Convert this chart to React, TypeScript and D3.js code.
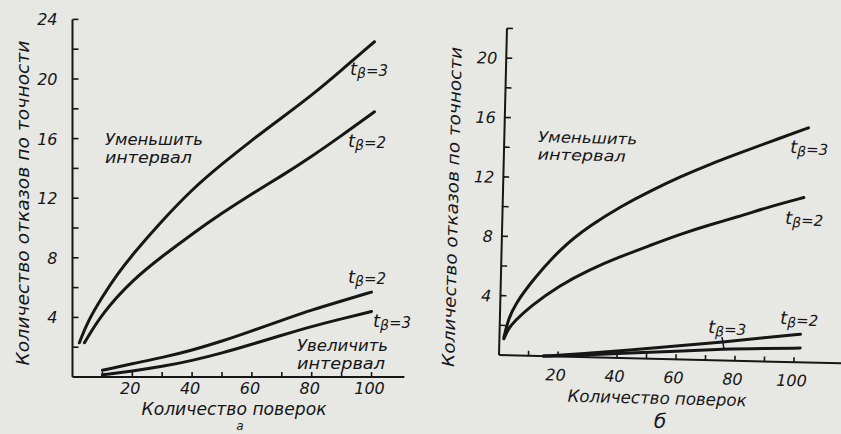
import React from 'react';
import * as d3 from 'd3';

// chart "а": values
const aUp3 = [[2.3, 2.3], [5, 3.7], [10, 5.4], [15, 6.9], [20, 8.2], [30, 10.5], [40, 12.6], [50, 14.3], [60, 15.9], [70, 17.4], [80, 18.9], [90, 20.6], [101, 22.5]];
const aUp2 = [[4, 2.3], [10, 4.3], [20, 6.5], [30, 8.1], [40, 9.6], [50, 11.0], [60, 12.3], [70, 13.5], [80, 14.8], [90, 16.2], [101, 17.8]];
const aLow2 = [[10, 0.45], [20, 0.9], [30, 1.3], [40, 1.8], [50, 2.4], [60, 3.1], [70, 3.8], [80, 4.5], [90, 5.1], [100, 5.7]];
const aLow3 = [[10, 0.15], [20, 0.4], [30, 0.7], [40, 1.1], [50, 1.6], [60, 2.2], [70, 2.8], [80, 3.4], [90, 3.9], [100, 4.4]];

// chart "б"
const bUp3 = [[1.5, 1.2], [3, 2.5], [5, 3.4], [10, 4.9], [20, 7.3], [30, 8.9], [40, 10.2], [50, 11.3], [60, 12.3], [70, 13.2], [80, 14.0], [90, 14.8], [103, 15.8]];
const bUp2 = [[1.5, 1.1], [3, 1.8], [5, 2.3], [10, 3.3], [20, 4.8], [30, 5.9], [40, 6.8], [50, 7.6], [60, 8.4], [70, 9.1], [80, 9.7], [90, 10.4], [102, 11.1]];
const bLow2 = [[15, 0], [30, 0.25], [44, 0.55], [60, 0.9], [76, 1.24], [90, 1.6], [102, 1.9]];
const bLow3 = [[15, 0], [30, 0.15], [44, 0.34], [60, 0.55], [76, 0.77], [90, 0.88], [102, 0.96]];

const xTicks = [10, 20, 30, 40, 50, 60, 70, 80, 90, 100];
const xTickLabels = [20, 40, 60, 80, 100];
const aYTicks = [2, 4, 6, 8, 10, 12, 14, 16, 18, 20, 22, 24];
const bYTicks = [2, 4, 6, 8, 10, 12, 14, 16, 18, 20, 22];
const aYTickLabels = [4, 8, 12, 16, 20, 24];
const bYTickLabels = [4, 8, 12, 16, 20];

const yTitle = 'Количество отказов по точности';
const xTitle = 'Количество поверок';
const lessText = ['Уменьшить', 'интервал'];
const moreText = ['Увеличить', 'интервал'];

const ink = '#161616';
const font = "'DejaVu Sans', sans-serif";

const TB = ({ x, y, v }) => (
  <text x={x} y={y} fontFamily={font} fontStyle="italic" fill={ink}>
    <tspan fontSize={18}>t</tspan>
    <tspan fontSize={14} dy={3}>β</tspan>
    <tspan fontSize={15} dy={-2}>={v}</tspan>
  </text>
);

const Panel = ({ ox, oy, kx, ky, xMax, yMax, yTicks, yLabels, angle, labelGap, xLabelY, curves, children }) => {
  const x = d3.scaleLinear().domain([0, xMax]).range([0, xMax * kx]);
  const y = d3.scaleLinear().domain([0, yMax]).range([0, -yMax * ky]);
  const line = d3.line().x(d => x(d[0])).y(d => y(d[1])).curve(d3.curveBasis);
  return (
    <g transform={`translate(${ox},${oy}) rotate(${angle})`}>
      <line x1={0} y1={0} x2={x(xMax)} y2={0} stroke={ink} strokeWidth={2} />
      <line x1={0} y1={0} x2={0} y2={y(yMax)} stroke={ink} strokeWidth={2} />
      {xTicks.map(t => (
        <line key={'xt' + t} x1={x(t)} x2={x(t)} y1={0} y2={-5} stroke={ink} strokeWidth={1.6} />
      ))}
      {yTicks.map(t => (
        <line key={'yt' + t} x1={0} x2={6} y1={y(t)} y2={y(t)} stroke={ink} strokeWidth={1.6} />
      ))}
      {xTickLabels.map(t => (
        <text key={'xl' + t} x={x(t) - 2} y={xLabelY} textAnchor="middle" fontFamily={font}
          fontStyle="italic" fontSize={16} fill={ink}>{t}</text>
      ))}
      {yLabels.map(t => (
        <text key={'yl' + t} x={-labelGap} y={y(t) + 6} textAnchor="end" fontFamily={font}
          fontStyle="italic" fontSize={16} fill={ink}>{t}</text>
      ))}
      {curves.map((c, i) => (
        <path key={'c' + i} d={line(c)} fill="none" stroke={ink} strokeWidth={3} strokeLinecap="round" />
      ))}
      {children}
    </g>
  );
};

const Label = ({ x, y, lines, w }) => (
  <g>
    {lines.map((s, i) => (
      <text key={i} x={x} y={y + i * 17.5} fontFamily={font} fontStyle="italic" fontSize={15} fill={ink}
        textLength={w[i]} lengthAdjust="spacingAndGlyphs">{s}</text>
    ))}
  </g>
);

export default function App() {
  const bAngle = 1.4;
  const th = (bAngle * Math.PI) / 180;
  const bo = [499, 355];
  // screen point -> local coords of the slightly rotated panel б
  const loc = (sx, sy) => {
    const dx = sx - bo[0], dy = sy - bo[1];
    return [dx * Math.cos(th) + dy * Math.sin(th), -dx * Math.sin(th) + dy * Math.cos(th)];
  };
  const p = (sx, sy) => { const q = loc(sx, sy); return { x: q[0], y: q[1] }; };

  return (
    <svg width={841} height={434} style={{ position: 'absolute', left: 0, top: 0 }}>
      <rect width={841} height={434} fill="#e7e7e4" />

      <Panel ox={72.5} oy={377} kx={2.99} ky={14.9} xMax={111} yMax={24} yTicks={aYTicks}
        yLabels={aYTickLabels} angle={0} labelGap={15} xLabelY={17} curves={[aUp3, aUp2, aLow2, aLow3]} />

      <TB x={350} y={75} v={3} />
      <TB x={348} y={147} v={2} />
      <TB x={348} y={283} v={2} />
      <TB x={373} y={327} v={3} />
      <Label x={105} y={145} lines={lessText} w={[98, 87]} />
      <Label x={297} y={351} lines={moreText} w={[91, 88]} />

      <text transform="translate(29,203) rotate(-90)" textAnchor="middle" fontFamily={font}
        fontStyle="italic" fontSize={17} fill={ink} textLength={325} lengthAdjust="spacingAndGlyphs">{yTitle}</text>
      <text x={234} y={415} textAnchor="middle" fontFamily={font} fontStyle="italic" fontSize={17}
        fill={ink} textLength={185} lengthAdjust="spacingAndGlyphs">{xTitle}</text>
      <text x={240} y={430} textAnchor="middle" fontFamily={font} fontStyle="italic" fontSize={12} fill={ink}>а</text>

      <Panel ox={bo[0]} oy={bo[1]} kx={2.95} ky={14.85} xMax={118} yMax={22} yTicks={bYTicks}
        yLabels={bYTickLabels} angle={bAngle} labelGap={9} xLabelY={24} curves={[bUp3, bUp2, bLow2, bLow3]}>
        <TB {...p(790, 153)} v={3} />
        <TB {...p(785, 224)} v={2} />
        <TB {...p(780, 324)} v={2} />
        <TB {...p(708, 333)} v={3} />
        <line x1={p(722, 337).x} y1={p(722, 337).y} x2={p(724, 349).x} y2={p(724, 349).y} stroke={ink} strokeWidth={1.5} />
        <Label {...p(538, 142)} lines={lessText} w={[99, 88]} />
        <text transform={`translate(${p(458, 207).x},${p(458, 207).y}) rotate(-90)`} textAnchor="middle"
          fontFamily={font} fontStyle="italic" fontSize={17} fill={ink} textLength={320}
          lengthAdjust="spacingAndGlyphs">{yTitle}</text>
        <text {...p(657, 404)} textAnchor="middle" fontFamily={font} fontStyle="italic" fontSize={17}
          fill={ink} textLength={179} lengthAdjust="spacingAndGlyphs">{xTitle}</text>
        <text {...p(660, 428)} textAnchor="middle" fontFamily={font} fontStyle="italic" fontSize={20} fill={ink}>б</text>
      </Panel>
    </svg>
  );
}
